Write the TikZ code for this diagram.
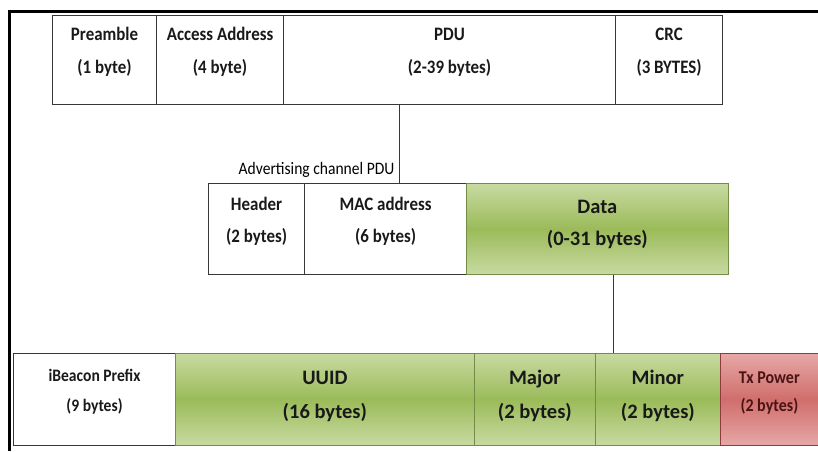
\documentclass[tikz,border=0pt]{standalone}
\usepackage{fontspec}
\setmainfont{Carlito}
\newfontfamily\narrowfont[FakeStretch=0.89]{Carlito}
\usetikzlibrary{calc,positioning}

\definecolor{boxline}{RGB}{55,55,55}
\definecolor{greenlight}{RGB}{200,218,162}
\definecolor{greendark}{RGB}{155,187,89}
\definecolor{greenedge}{RGB}{115,140,70}
\definecolor{redlight}{RGB}{230,168,166}
\definecolor{reddark}{RGB}{208,110,108}
\definecolor{rededge}{RGB}{140,60,60}
\definecolor{redtext}{RGB}{75,20,20}

\begin{document}
\begin{tikzpicture}[x=1pt,y=-1pt,
	field/.style={draw=boxline, line width=1.1pt, anchor=north west, inner sep=0pt},
	greenfield/.style={field, draw=greenedge, line width=0.7pt, top color=greenlight, bottom color=greenlight, middle color=greendark},
	redfield/.style={field, draw=rededge, line width=0.7pt, top color=redlight, bottom color=redlight, middle color=reddark},
	fieldtext/.style={align=center, inner sep=0pt, text=black!90},
	small/.style={font=\narrowfont\bfseries\fontsize{19}{33}\selectfont},
	big/.style={font=\bfseries\fontsize{20.5}{32}\selectfont},
	]
		\useasboundingbox (0,0) rectangle (818,451);
		\draw[line width=3pt] (9,451) -- (9,11) -- (818,11);

		\node[field, minimum width=104pt, minimum height=89pt] (preamble) at (52,15) {};
		\node[field, minimum width=127pt, minimum height=89pt] (access) at (156,15) {};
		\node[field, minimum width=332pt, minimum height=89pt] (pdu) at (283,15) {};
		\node[field, minimum width=107pt, minimum height=89pt] (crc) at (615,15) {};
		\node[fieldtext, small] (preambletext) at ([yshift=8pt]preamble.center) {Preamble\\(1 byte)};
		\node[fieldtext, small] (accesstext) at ([yshift=8pt]access.center) {Access Address\\(4 byte)};
		\node[fieldtext, small] (pdutext) at ([yshift=8pt]pdu.center) {PDU\\(2-39 bytes)};
		\node[fieldtext, small] (crctext) at ([yshift=8pt]crc.center) {CRC\\(3 BYTES)};

		\node[field, minimum width=96pt, minimum height=91pt] (header) at (208,183) {};
		\node[field, minimum width=162pt, minimum height=91pt] (mac) at (304,183) {};
		\node[greenfield, minimum width=262pt, minimum height=91pt] (data) at (466,183) {};
		\node[fieldtext, small, font=\narrowfont\bfseries\fontsize{19}{32}\selectfont] (headertext) at ([yshift=8pt]header.center) {Header\\(2 bytes)};
		\node[fieldtext, small, font=\narrowfont\bfseries\fontsize{19}{32}\selectfont] (mactext) at ([yshift=8pt]mac.center) {MAC address\\(6 bytes)};
		\node[fieldtext, big] (datatext) at ([yshift=4pt]data.center) {Data\\(0-31 bytes)};

		\coordinate (pdutap) at ($(pdu.south west)!0.35!(pdu.south east)$);
		\draw[line width=1.1pt, boxline] (pdutap) -- (pdutap |- mac.north);
		\node[anchor=south east, inner sep=0pt, font=\narrowfont\fontsize{17.5}{18}\selectfont] (advlabel) at ([xshift=-5pt, yshift=5pt]pdutap |- mac.north) {Advertising channel PDU};

		\node[field, minimum width=162pt, minimum height=92pt] (prefix) at (13,353) {};
		\node[greenfield, minimum width=299pt, minimum height=92pt] (uuid) at (175,353) {};
		\node[greenfield, minimum width=121pt, minimum height=92pt] (major) at (474,353) {};
		\node[greenfield, minimum width=125pt, minimum height=92pt] (minor) at (595,353) {};
		\node[redfield, minimum width=110pt, minimum height=92pt] (txpower) at (720,353) {};
		\node[fieldtext, font=\narrowfont\bfseries\fontsize{17.5}{30}\selectfont] (prefixtext) at ([yshift=8pt]prefix.center) {iBeacon Prefix\\(9 bytes)};
		\node[fieldtext, big, font=\bfseries\fontsize{20.5}{34}\selectfont] (uuidtext) at ([yshift=3pt]uuid.center) {UUID\\(16 bytes)};
		\node[fieldtext, big, font=\bfseries\fontsize{20.5}{34}\selectfont] (majortext) at ([yshift=3pt]major.center) {Major\\(2 bytes)};
		\node[fieldtext, big, font=\bfseries\fontsize{20.5}{34}\selectfont] (minortext) at ([yshift=3pt]minor.center) {Minor\\(2 bytes)};
		\node[fieldtext, text=redtext, font=\narrowfont\bfseries\fontsize{18}{28}\selectfont] (txtext) at ([xshift=-6pt, yshift=6pt]txpower.center) {Tx Power\\(2 bytes)};

		\coordinate (datatap) at ($(data.south west)!0.56!(data.south east)$);
		\draw[line width=1.1pt, boxline] (datatap) -- (datatap |- minor.north);
	\end{tikzpicture}
\end{document}
